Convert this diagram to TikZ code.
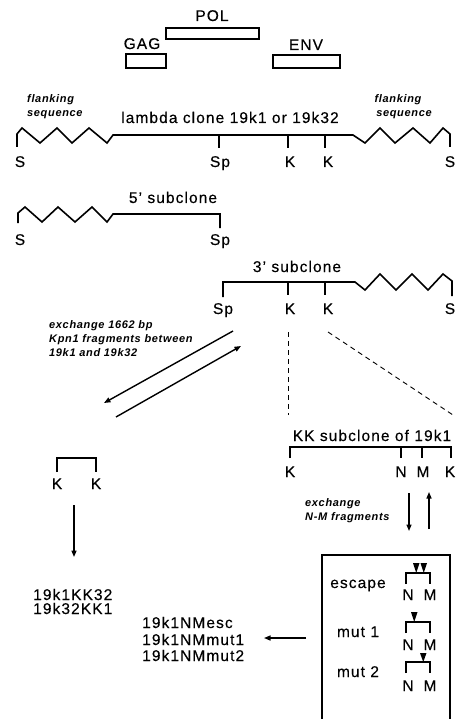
\documentclass[tikz,border=0pt]{standalone}
\usepackage{fontspec}
\setmainfont{Liberation Sans}[LetterSpace=7,FakeBold=0.3]
\newfontfamily\itl{Liberation Sans Bold Italic}[LetterSpace=6]
\usetikzlibrary{arrows.meta}
\begin{document}
\begin{tikzpicture}[x=1pt,y=-1pt,
  lab/.style={font=\fontsize{15.5}{18}\selectfont, inner sep=0pt, anchor=base},
  labw/.style={lab, anchor=base west},
  itx/.style={font=\itl\fontsize{11}{14}\selectfont, inner sep=0pt, anchor=base west},
  itc/.style={itx, anchor=base},
  dna/.style={line width=1.6pt, line join=miter},
  gene/.style={line width=1.3pt},
  arr/.style={line width=1.4pt, -{Triangle[length=6.5pt,width=5pt]}},
  dsh/.style={line width=0.9pt, dash pattern=on 5pt off 4pt},
  boxl/.style={line width=1.1pt},
  tri/.style={fill=black},
]
\useasboundingbox (0,0) rectangle (456,719);

% genes
\draw[gene] (126,54) rectangle (166,68);
\draw[gene] (166,28) rectangle (259,39);
\draw[gene] (273,55) rectangle (340,68);
\node[lab] (pol) at (212,21) {POL};
\node[lab] (gag) at (142,49) {GAG};
\node[lab] (env) at (306,50) {ENV};

% lambda clone
\node[lab] (lam) at (230,123) {lambda clone 19k1 or 19k32};
\node[itx] (fl1) at (27,103) {flanking};
\node[itx] (sq1) at (27,117) {sequence};
\node[itc] (fl2) at (398,103) {flanking};
\node[itc] (sq2) at (404,117) {sequence};
\draw[dna] (17,147)--(17,134)--(22,128)--(40,143)--(57,128)--(72,143)--(89,128)--(107,143)--(113,135)
  --(353,135)--(365,143)--(380,128)--(395,143)--(413,128)--(430,143)--(443,128)--(450,134)--(450,147);
\draw[dna] (219,135)--(219,148);
\draw[dna] (288,135)--(288,148);
\draw[dna] (325,135)--(325,148);
\node[lab] (s1) at (20,167) {S};
\node[lab] (sp1) at (220,167) {Sp};
\node[lab] (k1a) at (290,167) {K};
\node[lab] (k1b) at (328,167) {K};
\node[lab] (s1r) at (450,167) {S};

% 5' subclone
\node[lab] (five) at (173,203) {5' subclone};
\draw[dna] (18,223)--(18,213)--(25,207)--(42,222)--(58,207)--(75,222)--(92,207)--(107,222)--(113,214)--(220,214)--(220,228);
\node[lab] (s2) at (20,245) {S};
\node[lab] (sp2) at (220,245) {Sp};

% 3' subclone
\node[lab] (three) at (297,272) {3' subclone};
\draw[dna] (223,297)--(223,282)--(355,282)--(365,290)--(380,274)--(396,290)--(412,274)--(428,290)--(443,274)--(452,281)--(452,296);
\draw[dna] (288,282)--(288,295);
\draw[dna] (325,282)--(325,295);
\node[lab] (sp3) at (223,314) {Sp};
\node[lab] (k3a) at (290,314) {K};
\node[lab] (k3b) at (328,314) {K};
\node[lab] (s3) at (450,314) {S};

% exchange Kpn1
\node[itx] (ex1a) at (49,328) {exchange 1662 bp};
\node[itx] (ex1b) at (49,342) {Kpn1 fragments between};
\node[itx] (ex1c) at (49,356) {19k1 and 19k32};
\coordinate (a1s) at (233,331);
\coordinate (a1e) at (104,403);
\coordinate (a2s) at (116,417);
\coordinate (a2e) at (241,346);
\draw[arr] (a1s) -- (a1e);
\draw[arr] (a2s) -- (a2e);

% dashed
\coordinate (d1s) at (288,332);
\coordinate (d1e) at (288,415);
\coordinate (d2s) at (328,332);
\coordinate (d2e) at (453,415);
\draw[dsh] (d1s) -- (d1e);
\draw[dsh] (d2s) -- (d2e);

% KK subclone
\node[lab] (kk) at (372,441) {KK subclone of 19k1};
\draw[dna] (290,458)--(290,447)--(451,447)--(451,458);
\draw[dna] (401,447)--(401,458);
\draw[dna] (422,447)--(422,458);
\node[lab] (k4a) at (290,477) {K};
\node[lab] (n4) at (401,477) {N};
\node[lab] (m4) at (423,477) {M};
\node[lab] (k4b) at (450,477) {K};

\node[itx] (ex2a) at (305,506) {exchange};
\node[itx] (ex2b) at (305,520) {N-M fragments};
\coordinate (b1s) at (409,493);
\coordinate (b1e) at (409,531);
\coordinate (b2s) at (429,529);
\coordinate (b2e) at (429,492);
\draw[arr] (b1s) -- (b1e);
\draw[arr] (b2s) -- (b2e);

% left KK
\draw[dna] (57,472)--(57,458)--(96,458)--(96,472);
\node[lab] (k5a) at (57,489) {K};
\node[lab] (k5b) at (96,489) {K};
\coordinate (c1s) at (74,505);
\coordinate (c1e) at (74,557);
\draw[arr] (c1s) -- (c1e);
\node[labw] (r1) at (33,600) {19k1KK32};
\node[labw] (r2) at (33,614) {19k32KK1};

% NM results
\node[labw] (q1) at (142,628) {19k1NMesc};
\node[labw] (q2) at (142,645) {19k1NMmut1};
\node[labw] (q3) at (142,661) {19k1NMmut2};
\coordinate (e1s) at (306,638);
\coordinate (e1e) at (264,638);
\draw[arr] (e1s) -- (e1e);

% box
\draw[boxl] (322,719)--(322,555)--(450,555)--(450,719);
\node[lab] (esc) at (358,588) {escape};
\node[lab] (mu1) at (358,637) {mut 1};
\node[lab] (mu2) at (358,677) {mut 2};
\draw[dna] (406,584)--(406,573)--(430,573)--(430,584);
\fill[tri] (413,563)--(419.5,563)--(416.25,573)--cycle;
\fill[tri] (420.5,563)--(427,563)--(423.75,573)--cycle;
\node[lab] (n6) at (408,600) {N};
\node[lab] (m6) at (430,600) {M};
\draw[dna] (406,633)--(406,622)--(430,622)--(430,633);
\fill[tri] (411,612)--(417.5,612)--(414.25,622)--cycle;
\node[lab] (n7) at (408,650) {N};
\node[lab] (m7) at (430,650) {M};
\draw[dna] (406,673)--(406,662)--(430,662)--(430,673);
\fill[tri] (420,653)--(426.5,653)--(423.25,662)--cycle;
\node[lab] (n8) at (408,691) {N};
\node[lab] (m8) at (430,691) {M};
\end{tikzpicture}
\end{document}
